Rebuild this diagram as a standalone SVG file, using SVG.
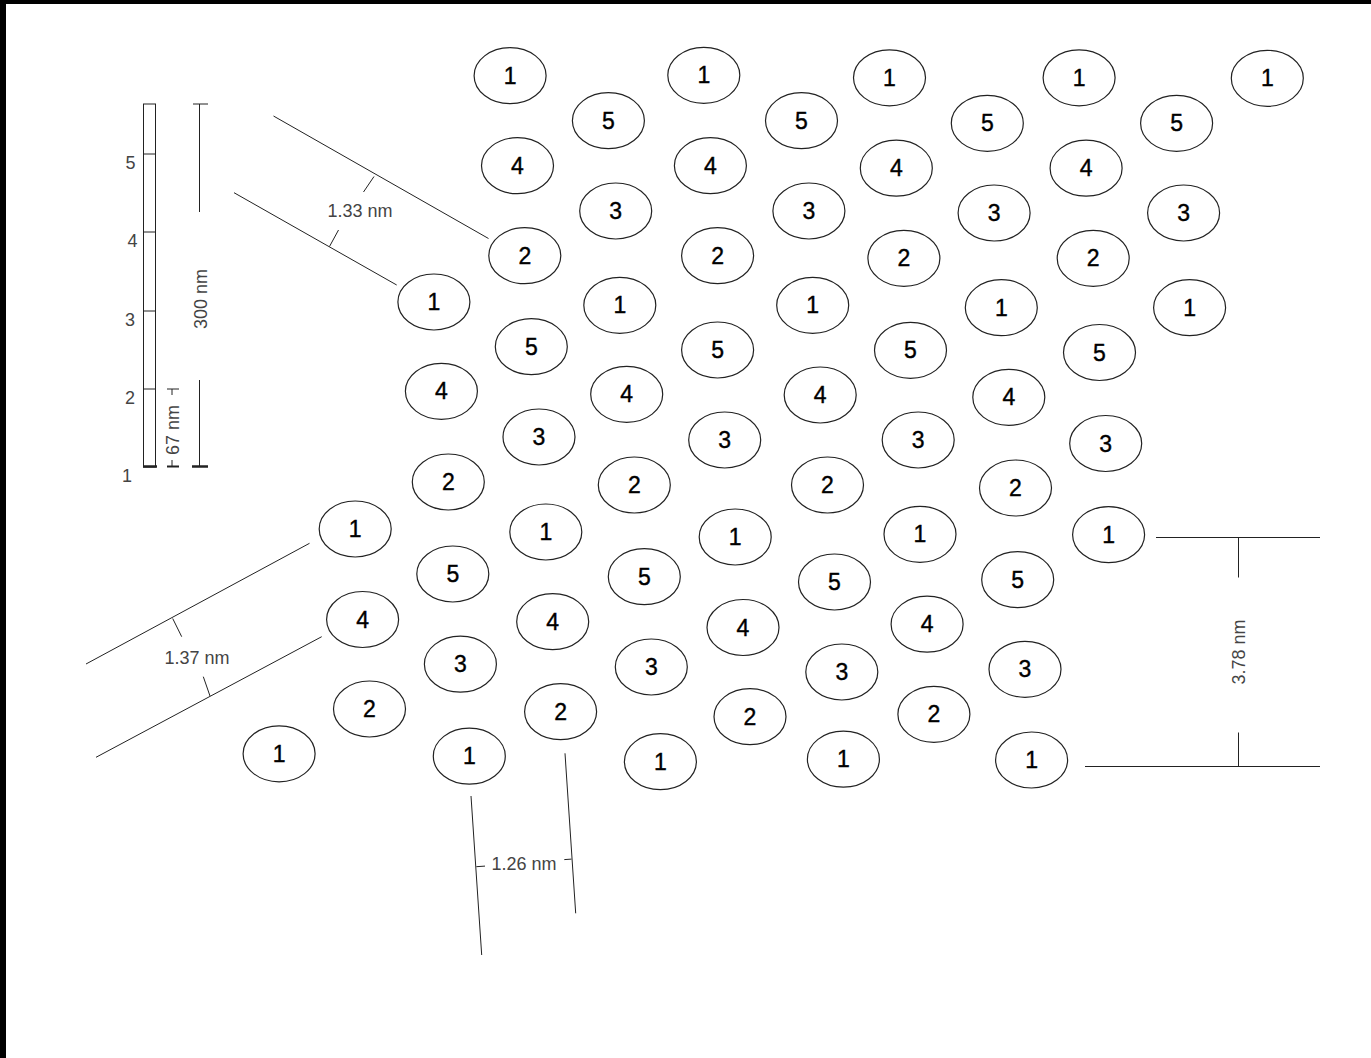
<svg xmlns="http://www.w3.org/2000/svg" width="1371" height="1058" viewBox="0 0 1371 1058">
<style>
.n ellipse{fill:#fff;stroke:#222;stroke-width:1.2}
.n text{font-family:"Liberation Sans",Arial,sans-serif;font-size:23px;fill:#000;stroke:#000;stroke-width:0.4;text-anchor:middle}
.d line,.d rect{stroke:#222;stroke-width:1;fill:none}
.lbl{font-family:"Liberation Sans",Arial,sans-serif;font-size:18px;fill:#444;text-anchor:middle}
</style>
<rect x="0" y="0" width="1371" height="1058" fill="#fff"/>
<rect x="0" y="0" width="1371" height="4" fill="#000"/>
<rect x="0" y="0" width="6" height="1058" fill="#000"/>

<g id="dimension-lines" class="d">
  <!-- scale bar -->
  <rect x="143.5" y="104" width="12" height="363"/>
  <line x1="143.5" y1="154" x2="155.5" y2="154"/>
  <line x1="143.5" y1="232" x2="155.5" y2="232"/>
  <line x1="143.5" y1="311" x2="155.5" y2="311"/>
  <line x1="143.5" y1="389" x2="155.5" y2="389"/>
  <line x1="143" y1="466.5" x2="157" y2="466.5" style="stroke-width:2.5"/>
  <!-- 300 nm -->
  <line x1="193" y1="104" x2="208" y2="104"/>
  <line x1="199.5" y1="104" x2="199.5" y2="212"/>
  <line x1="199.5" y1="380" x2="199.5" y2="467"/>
  <line x1="192" y1="466.5" x2="208" y2="466.5" style="stroke-width:2.5"/>
  <!-- 67 nm -->
  <line x1="167" y1="389" x2="179" y2="389"/>
  <line x1="172" y1="389" x2="172" y2="395"/>
  <line x1="172" y1="460" x2="172" y2="467"/>
  <line x1="167" y1="466.5" x2="179" y2="466.5" style="stroke-width:2"/>
  <!-- 1.33 nm -->
  <line x1="273.5" y1="116" x2="488.5" y2="238.5"/>
  <line x1="234" y1="192.7" x2="396.7" y2="285"/>
  <line x1="374" y1="176.5" x2="363.5" y2="192"/>
  <line x1="329.5" y1="246.5" x2="338.5" y2="230"/>
  <!-- 1.37 nm -->
  <line x1="86" y1="664" x2="309.5" y2="543.3"/>
  <line x1="96" y1="757.3" x2="321.7" y2="636.7"/>
  <line x1="172.7" y1="618.5" x2="181.7" y2="636.7"/>
  <line x1="203.3" y1="676.7" x2="210" y2="696"/>
  <!-- 1.26 nm -->
  <line x1="471" y1="796" x2="481.7" y2="955"/>
  <line x1="565" y1="753.3" x2="575.7" y2="913.3"/>
  <line x1="476.3" y1="866.7" x2="485" y2="866.1"/>
  <line x1="564.3" y1="859.6" x2="571.5" y2="859.1"/>
  <!-- 3.78 nm -->
  <line x1="1156" y1="537.5" x2="1320" y2="537.5"/>
  <line x1="1238.5" y1="537.5" x2="1238.5" y2="577.5"/>
  <line x1="1085" y1="766.5" x2="1320" y2="766.5"/>
  <line x1="1238.5" y1="732.5" x2="1238.5" y2="766.5"/>
</g>

<g id="labels">
  <text class="lbl" x="130.5" y="169">5</text>
  <text class="lbl" x="132.5" y="247">4</text>
  <text class="lbl" x="130" y="326">3</text>
  <text class="lbl" x="130" y="404">2</text>
  <text class="lbl" x="127" y="482">1</text>
  <text class="lbl" transform="translate(206.5,299) rotate(-90)">300 nm</text>
  <text class="lbl" transform="translate(178.5,430) rotate(-90)">67 nm</text>
  <text class="lbl" transform="translate(1244.5,652) rotate(-90)">3.78 nm</text>
  <text class="lbl" x="360" y="217">1.33 nm</text>
  <text class="lbl" x="197" y="664">1.37 nm</text>
  <text class="lbl" x="524" y="870">1.26 nm</text>
</g>

<g id="n1" class="n"><ellipse cx="510.1" cy="75.7" rx="36" ry="28"/><text x="510.1" y="83.7">1</text></g>
<g id="n2" class="n"><ellipse cx="703.8" cy="75.3" rx="36" ry="28"/><text x="703.8" y="83.3">1</text></g>
<g id="n3" class="n"><ellipse cx="889.5" cy="77.8" rx="36" ry="28"/><text x="889.5" y="85.8">1</text></g>
<g id="n4" class="n"><ellipse cx="1079.1" cy="77.8" rx="36" ry="28"/><text x="1079.1" y="85.8">1</text></g>
<g id="n5" class="n"><ellipse cx="1267.3" cy="78.3" rx="36" ry="28"/><text x="1267.3" y="86.3">1</text></g>

<g id="n6" class="n"><ellipse cx="608.4" cy="120.7" rx="36" ry="28"/><text x="608.4" y="128.7">5</text></g>
<g id="n7" class="n"><ellipse cx="801.5" cy="120.7" rx="36" ry="28"/><text x="801.5" y="128.7">5</text></g>
<g id="n8" class="n"><ellipse cx="987.3" cy="123.3" rx="36" ry="28"/><text x="987.3" y="131.3">5</text></g>
<g id="n9" class="n"><ellipse cx="1176.6" cy="123.3" rx="36" ry="28"/><text x="1176.6" y="131.3">5</text></g>

<g id="n10" class="n"><ellipse cx="517.5" cy="165.7" rx="36" ry="28"/><text x="517.5" y="173.7">4</text></g>
<g id="n11" class="n"><ellipse cx="710.4" cy="165.7" rx="36" ry="28"/><text x="710.4" y="173.7">4</text></g>
<g id="n12" class="n"><ellipse cx="896.3" cy="168.2" rx="36" ry="28"/><text x="896.3" y="176.2">4</text></g>
<g id="n13" class="n"><ellipse cx="1086.1" cy="168.2" rx="36" ry="28"/><text x="1086.1" y="176.2">4</text></g>

<g id="n14" class="n"><ellipse cx="615.7" cy="211" rx="36" ry="28"/><text x="615.7" y="219">3</text></g>
<g id="n15" class="n"><ellipse cx="808.9" cy="211" rx="36" ry="28"/><text x="808.9" y="219">3</text></g>
<g id="n16" class="n"><ellipse cx="994.1" cy="213" rx="36" ry="28"/><text x="994.1" y="221">3</text></g>
<g id="n17" class="n"><ellipse cx="1183.6" cy="213" rx="36" ry="28"/><text x="1183.6" y="221">3</text></g>

<g id="n18" class="n"><ellipse cx="524.8" cy="255.7" rx="36" ry="28"/><text x="524.8" y="263.7">2</text></g>
<g id="n19" class="n"><ellipse cx="717.6" cy="255.7" rx="36" ry="28"/><text x="717.6" y="263.7">2</text></g>
<g id="n20" class="n"><ellipse cx="903.9" cy="258.3" rx="36" ry="28"/><text x="903.9" y="266.3">2</text></g>
<g id="n21" class="n"><ellipse cx="1093.2" cy="258.3" rx="36" ry="28"/><text x="1093.2" y="266.3">2</text></g>

<g id="n22" class="n"><ellipse cx="433.9" cy="302" rx="36" ry="28"/><text x="433.9" y="310">1</text></g>
<g id="n23" class="n"><ellipse cx="619.8" cy="305.3" rx="36" ry="28"/><text x="619.8" y="313.3">1</text></g>
<g id="n24" class="n"><ellipse cx="812.7" cy="305.3" rx="36" ry="28"/><text x="812.7" y="313.3">1</text></g>
<g id="n25" class="n"><ellipse cx="1001.3" cy="307.7" rx="36" ry="28"/><text x="1001.3" y="315.7">1</text></g>
<g id="n26" class="n"><ellipse cx="1189.6" cy="307.7" rx="36" ry="28"/><text x="1189.6" y="315.7">1</text></g>

<g id="n27" class="n"><ellipse cx="531.3" cy="346.7" rx="36" ry="28"/><text x="531.3" y="354.7">5</text></g>
<g id="n28" class="n"><ellipse cx="717.6" cy="350" rx="36" ry="28"/><text x="717.6" y="358">5</text></g>
<g id="n29" class="n"><ellipse cx="910.5" cy="350.3" rx="36" ry="28"/><text x="910.5" y="358.3">5</text></g>
<g id="n30" class="n"><ellipse cx="1099.5" cy="352.5" rx="36" ry="28"/><text x="1099.5" y="360.5">5</text></g>

<g id="n31" class="n"><ellipse cx="441.4" cy="391.3" rx="36" ry="28"/><text x="441.4" y="399.3">4</text></g>
<g id="n32" class="n"><ellipse cx="626.7" cy="394.3" rx="36" ry="28"/><text x="626.7" y="402.3">4</text></g>
<g id="n33" class="n"><ellipse cx="820.2" cy="395" rx="36" ry="28"/><text x="820.2" y="403">4</text></g>
<g id="n34" class="n"><ellipse cx="1008.8" cy="397.3" rx="36" ry="28"/><text x="1008.8" y="405.3">4</text></g>

<g id="n35" class="n"><ellipse cx="539" cy="437" rx="36" ry="28"/><text x="539" y="445">3</text></g>
<g id="n36" class="n"><ellipse cx="724.7" cy="440" rx="36" ry="28"/><text x="724.7" y="448">3</text></g>
<g id="n37" class="n"><ellipse cx="918.2" cy="440" rx="36" ry="28"/><text x="918.2" y="448">3</text></g>
<g id="n38" class="n"><ellipse cx="1105.7" cy="443.5" rx="36" ry="28"/><text x="1105.7" y="451.5">3</text></g>

<g id="n39" class="n"><ellipse cx="448.3" cy="482" rx="36" ry="28"/><text x="448.3" y="490">2</text></g>
<g id="n40" class="n"><ellipse cx="634.3" cy="485" rx="36" ry="28"/><text x="634.3" y="493">2</text></g>
<g id="n41" class="n"><ellipse cx="827.5" cy="485" rx="36" ry="28"/><text x="827.5" y="493">2</text></g>
<g id="n42" class="n"><ellipse cx="1015.5" cy="488" rx="36" ry="28"/><text x="1015.5" y="496">2</text></g>

<g id="n43" class="n"><ellipse cx="355.2" cy="529" rx="36" ry="28"/><text x="355.2" y="537">1</text></g>
<g id="n44" class="n"><ellipse cx="545.8" cy="532" rx="36" ry="28"/><text x="545.8" y="540">1</text></g>
<g id="n45" class="n"><ellipse cx="735.2" cy="537" rx="36" ry="28"/><text x="735.2" y="545">1</text></g>
<g id="n46" class="n"><ellipse cx="920" cy="534.3" rx="36" ry="28"/><text x="920" y="542.3">1</text></g>
<g id="n47" class="n"><ellipse cx="1108.6" cy="534.7" rx="36" ry="28"/><text x="1108.6" y="542.7">1</text></g>

<g id="n48" class="n"><ellipse cx="452.8" cy="574" rx="36" ry="28"/><text x="452.8" y="582">5</text></g>
<g id="n49" class="n"><ellipse cx="644.3" cy="576.7" rx="36" ry="28"/><text x="644.3" y="584.7">5</text></g>
<g id="n50" class="n"><ellipse cx="834.5" cy="582" rx="36" ry="28"/><text x="834.5" y="590">5</text></g>
<g id="n51" class="n"><ellipse cx="1017.7" cy="579.7" rx="36" ry="28"/><text x="1017.7" y="587.7">5</text></g>

<g id="n52" class="n"><ellipse cx="362.6" cy="619.5" rx="36" ry="28"/><text x="362.6" y="627.5">4</text></g>
<g id="n53" class="n"><ellipse cx="552.7" cy="621.7" rx="36" ry="28"/><text x="552.7" y="629.7">4</text></g>
<g id="n54" class="n"><ellipse cx="743" cy="627.5" rx="36" ry="28"/><text x="743" y="635.5">4</text></g>
<g id="n55" class="n"><ellipse cx="927.1" cy="624.2" rx="36" ry="28"/><text x="927.1" y="632.2">4</text></g>

<g id="n56" class="n"><ellipse cx="460.4" cy="664.2" rx="36" ry="28"/><text x="460.4" y="672.2">3</text></g>
<g id="n57" class="n"><ellipse cx="651.3" cy="667" rx="36" ry="28"/><text x="651.3" y="675">3</text></g>
<g id="n58" class="n"><ellipse cx="841.8" cy="672" rx="36" ry="28"/><text x="841.8" y="680">3</text></g>
<g id="n59" class="n"><ellipse cx="1025" cy="669.3" rx="36" ry="28"/><text x="1025" y="677.3">3</text></g>

<g id="n60" class="n"><ellipse cx="369.5" cy="709" rx="36" ry="28"/><text x="369.5" y="717">2</text></g>
<g id="n61" class="n"><ellipse cx="560.6" cy="711.7" rx="36" ry="28"/><text x="560.6" y="719.7">2</text></g>
<g id="n62" class="n"><ellipse cx="750" cy="716.7" rx="36" ry="28"/><text x="750" y="724.7">2</text></g>
<g id="n63" class="n"><ellipse cx="933.9" cy="714.3" rx="36" ry="28"/><text x="933.9" y="722.3">2</text></g>

<g id="n64" class="n"><ellipse cx="279.1" cy="753.8" rx="36" ry="28"/><text x="279.1" y="761.8">1</text></g>
<g id="n65" class="n"><ellipse cx="469.3" cy="756.2" rx="36" ry="28"/><text x="469.3" y="764.2">1</text></g>
<g id="n66" class="n"><ellipse cx="660.4" cy="761.7" rx="36" ry="28"/><text x="660.4" y="769.7">1</text></g>
<g id="n67" class="n"><ellipse cx="843.4" cy="759.2" rx="36" ry="28"/><text x="843.4" y="767.2">1</text></g>
<g id="n68" class="n"><ellipse cx="1031.6" cy="760" rx="36" ry="28"/><text x="1031.6" y="768">1</text></g>
</svg>
